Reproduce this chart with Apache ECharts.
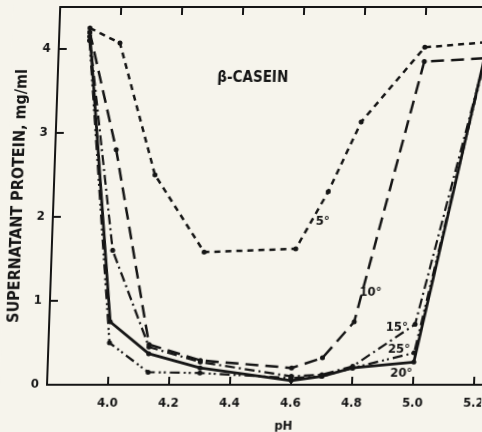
<!DOCTYPE html>
<html>
<head>
<meta charset="utf-8">
<script src="https://cdn.jsdelivr.net/npm/echarts@6/dist/echarts.min.js"></script>
<style>
  html, body { margin: 0; padding: 0; background: #f6f4ec; overflow: hidden; }
  /* the scanned figure leans a little to the right at the top */
  #main { width: 482px; height: 432px; transform: skewX(-2deg); transform-origin: 0 385px; }
</style>
</head>
<body>
<div id="main"></div>
<script>
// pH values where the samples were read
var pH = [3.9, 4.0, 4.13, 4.3, 4.6, 4.7, 4.8, 5.0, 5.2];
// supernatant protein, mg/ml, one array per temperature
var t5 = [4.25, 4.07, 2.5, 1.58, 1.62, 2.3, 3.13, 4.02, 4.08];
var t10 = [4.2, 2.8, 0.48, 0.29, 0.2, 0.32, 0.75, 3.85, 3.89];
var t15 = [4.15, 1.6, 0.45, 0.27, 0.1, 0.12, 0.22, 0.72, 3.9];
var t20 = [4.2, 0.75, 0.37, 0.2, 0.05, 0.1, 0.2, 0.27, 3.95];
var t25 = [4.1, 0.5, 0.15, 0.14, 0.08, 0.1, 0.2, 0.38, 3.9];
var xTicks = ['4.0', '4.2', '4.4', '4.6', '4.8', '5.0', '5.2'];
var yTicks = ['0', '1', '2', '3', '4'];

var ink = '#151515';
var font = '"DejaVu Sans Condensed", "DejaVu Sans", sans-serif';

function pairs(vals) {
  var out = [];
  for (var i = 0; i < pH.length; i++) out.push([pH[i], vals[i]]);
  return out;
}

function curve(name, vals, dash, width, text, at) {
  return {
    name: name,
    type: 'line',
    data: pairs(vals),
    symbol: 'circle',
    symbolSize: 5,
    itemStyle: { color: ink },
    lineStyle: { color: ink, width: width, type: dash },
    markPoint: {
      silent: true,
      symbol: 'circle',
      symbolSize: 0,
      data: [{ coord: at }],
      label: {
        show: true, position: 'inside', formatter: text,
        color: ink, fontFamily: font, fontWeight: 'bold', fontSize: 13
      }
    },
    animation: false
  };
}

var chart = echarts.init(document.getElementById('main'));
var option = {
  backgroundColor: '#f6f4ec',
  title: {
    text: 'β-CASEIN', left: 237, top: 66, textAlign: 'center',
    textStyle: { color: ink, fontFamily: font, fontWeight: 'bold', fontSize: 15 }
  },
  // plot runs past the right edge of the page, as in the cropped scan
  grid: { left: 47, top: 7, width: 457.5, height: 378, outerBoundsMode: 'none', containLabel: false },
  xAxis: [{
    type: 'value', min: 3.8, max: 5.3, interval: 0.2,
    position: 'bottom',
    name: 'pH', nameLocation: 'middle', nameGap: 35,
    nameTextStyle: { color: ink, fontFamily: font, fontWeight: 'bold', fontSize: 13, padding: [0, 0, 0, 18] },
    axisLine: { lineStyle: { color: ink, width: 2 } },
    axisTick: { inside: true, length: 8, lineStyle: { color: ink, width: 2 } },
    splitLine: { show: false },
    axisLabel: {
      margin: 12, color: ink, fontFamily: font, fontWeight: 'bold', fontSize: 13,
      formatter: function (v) {
        var s = v.toFixed(1);
        return xTicks.indexOf(s) >= 0 ? s : '';
      }
    }
  }, {
    type: 'value', min: 3.8, max: 5.3, interval: 0.2,
    position: 'top',
    axisLine: { lineStyle: { color: ink, width: 2 } },
    axisTick: { inside: true, length: 8, lineStyle: { color: ink, width: 2 } },
    axisLabel: { show: false },
    splitLine: { show: false }
  }],
  yAxis: {
    type: 'value', min: 0, max: 4.5, interval: 1,
    name: 'SUPERNATANT PROTEIN, mg/ml', nameLocation: 'middle', nameGap: 20,
    nameTextStyle: { color: ink, fontFamily: font, fontWeight: 'bold', fontSize: 16 },
    axisLine: { lineStyle: { color: ink, width: 2 } },
    axisTick: { inside: true, length: 8, lineStyle: { color: ink, width: 2 } },
    splitLine: { show: false },
    axisLabel: {
      margin: 8, color: ink, fontFamily: font, fontWeight: 'bold', fontSize: 13,
      formatter: function (v) {
        var s = String(Math.round(v));
        return (Math.abs(v - Math.round(v)) < 1e-6 && yTicks.indexOf(s) >= 0) ? s : '';
      }
    }
  },
  series: [
    curve('5°', t5, [6, 5], 2.5, '5°', [4.685, 1.94]),
    curve('10°', t10, [13, 7], 2.5, '10°', [4.85, 1.1]),
    curve('15°', t15, [10, 4, 2, 4], 2.2, '15°', [4.94, 0.68]),
    curve('20°', t20, 'solid', 2.8, '20°', [4.96, 0.14]),
    curve('25°', t25, [10, 4, 2, 3, 2, 4], 2.2, '25°', [4.95, 0.42])
  ]
};
chart.setOption(option);
</script>
</body>
</html>
